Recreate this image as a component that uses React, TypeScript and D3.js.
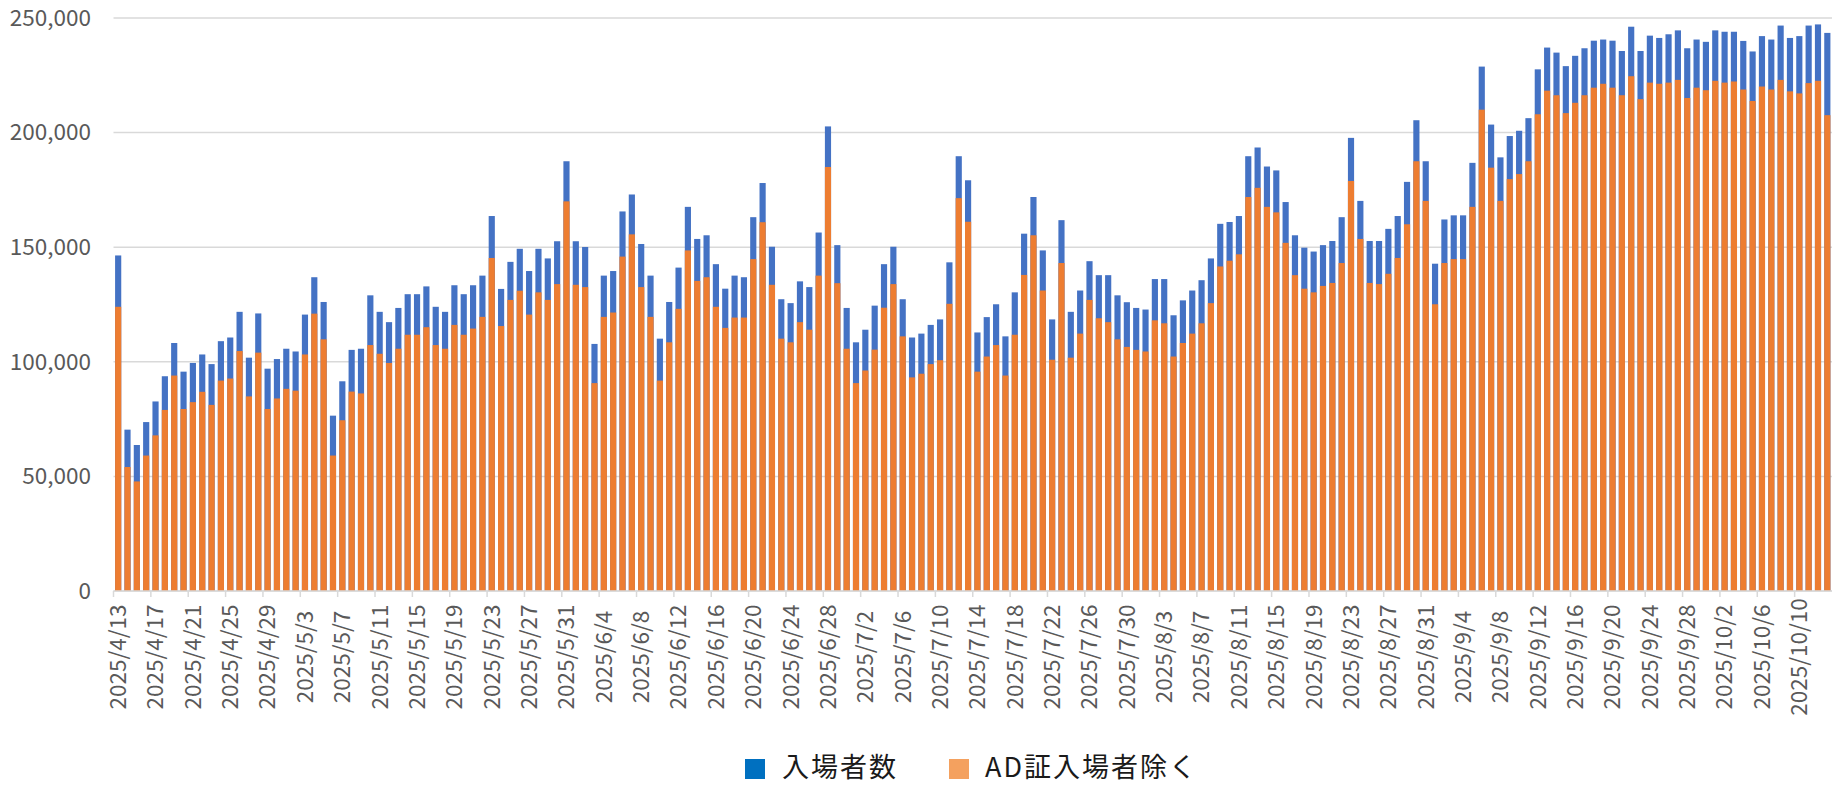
import React from "react";
import * as d3 from "d3";

// Daily categories: 2025/4/13 .. 2025/10/13
const startDate = new Date(2025, 3, 13);
const endDate = new Date(2025, 9, 14);
const dates: Date[] = d3.timeDay.range(startDate, endDate);
const categories: string[] = dates.map(
  (d) => `${d.getFullYear()}/${d.getMonth() + 1}/${d.getDate()}`
);

const seriesNames = ["入場者数", "AD証入場者除く"];

// 入場者数 (total visitors)
const totalVisitors: number[] = [
  // April 13-30
  146400, 70400, 63700, 73700, 82700, 93700, 108200, 95700, 99500, 103200, 99000, 109000, 110600, 121800, 101800, 121100, 97000, 101200,
  // May
  105700, 104500, 120600, 136900, 126100, 76500, 91500, 105200, 105700, 129000, 121800, 117300, 123500, 129500, 129500, 132900, 124000, 121800, 133400, 129500, 133400, 137600, 163600, 131800, 143600, 149300, 139600, 149300, 145100, 152600, 187500,
  // June
  152600, 150100, 107800, 137600, 139600, 165600, 173000, 151400, 137600, 110100, 126100, 141100, 167600, 153600, 155200, 142600, 131900, 137600, 136900, 163100, 178000, 150200, 127300, 125600, 135100, 132600, 156400, 202700, 150900, 123500,
  // July
  108500, 114000, 124500, 142600, 150200, 127300, 110600, 112300, 116100, 118500, 143400, 189700, 179200, 112800, 119500, 125100, 111100, 130300, 155900, 171900, 148600, 118500, 161800, 121800, 131100, 143900, 137800, 137800, 129000, 126000, 123500,
  // August
  122800, 136100, 136100, 120300, 126800, 131100, 135600, 145100, 160200, 161000, 163600, 189700, 193500, 185200, 183500, 169700, 155200, 149800, 148100, 150900, 152700, 163100, 197700, 170200, 152700, 152700, 158000, 163600, 178500, 205400, 187500,
  // September
  142800, 162100, 163900, 163900, 186800, 228800, 203500, 189200, 198500, 200800, 206300, 227600, 237100, 234900, 229000, 233500, 236800, 240100, 240600, 240100, 235600, 246200, 235600, 242300, 241300, 242900, 244600, 236800, 240600, 239600,
  // October 1-13
  244600, 244000, 244000, 240000, 235400, 242100, 240600, 246700, 241300, 242100, 246700, 247200, 243500,
];

// AD証入場者除く (excluding annual-pass visitors)
const generalVisitors: number[] = [
  // April 13-30
  124000, 54100, 47800, 59100, 67900, 79000, 94000, 79400, 82400, 86900, 81200, 91800, 92700, 104700, 84900, 104000, 79400, 84000,
  // May
  88200, 87400, 103200, 121000, 109800, 59100, 74500, 87000, 86200, 107300, 103500, 99500, 105700, 111800, 111800, 115100, 107300, 105700, 116100, 111800, 114500, 119600, 145300, 115600, 127000, 131000, 120600, 130300, 127000, 133900, 170000,
  // June
  133600, 132600, 90700, 119600, 121500, 145900, 155600, 132600, 119600, 91800, 108500, 123100, 148600, 135300, 136900, 124000, 114800, 119300, 119300, 144800, 160900, 133600, 110100, 108500, 117300, 114000, 137600, 185000, 134300, 105700,
  // July
  90700, 96200, 105300, 123600, 133900, 111100, 93200, 94800, 99000, 100700, 125300, 171400, 161100, 95700, 102300, 107300, 94000, 111800, 137900, 155200, 131100, 100900, 143100, 101800, 112300, 127000, 119000, 117300, 109800, 106500, 105200,
  // August
  104500, 118100, 116800, 102300, 108200, 112300, 116800, 125600, 141600, 144100, 146900, 171900, 175900, 167600, 165200, 151900, 137800, 131900, 130300, 133100, 134400, 143100, 178900, 153600, 134400, 133900, 138400, 145300, 160000, 187500, 170200,
  // September
  125100, 143100, 144800, 144800, 167600, 210000, 184700, 170200, 179700, 181900, 187500, 208000, 218300, 216300, 208500, 213000, 216300, 219600, 221300, 219600, 216300, 224600, 214600, 221800, 221300, 221800, 223000, 215100, 219600, 218500,
  // October 1-13
  222600, 221800, 222300, 218800, 213800, 220100, 218800, 223000, 218000, 217100, 221600, 222600, 207600,
];

const yTicks = [0, 50000, 100000, 150000, 200000, 250000];
const xTickEvery = 4;

const W = 1845;
const H = 786;
const plotLeft = 113.5;
const plotRight = 1832;
const plotTop = 18;
const plotBottom = 591;

const barBlue = "#4472C4";
const barOrange = "#ED7D31";
const legendBlue = "#0070C0";
const legendOrange = "#F4A15F";
const axisFont = "'Noto Sans CJK JP', 'Noto Sans', sans-serif";

export default function App() {
  const x = d3
    .scaleBand<string>()
    .domain(categories)
    .range([plotLeft, plotRight])
    .paddingInner(0.34)
    .paddingOuter(0.17);
  const step = x.step();
  const y = d3.scaleLinear().domain([0, 250000]).range([plotBottom, plotTop]);
  const fmt = d3.format(",");

  const tickCats = categories.filter((_, i) => i % xTickEvery === 0);

  return (
    <svg
      width={W}
      height={H}
      style={{ position: "absolute", left: 0, top: 0, background: "#fff" }}
    >
      <rect x={0} y={0} width={W} height={H} fill="#fff" />
      {/* gridlines */}
      {yTicks.map((t) => (
        <line
          key={"g" + t}
          x1={plotLeft}
          x2={plotRight}
          y1={y(t)}
          y2={y(t)}
          stroke="#d9d9d9"
          strokeWidth={1.5}
        />
      ))}
      {/* y labels */}
      {yTicks.map((t) => (
        <text
          key={"yl" + t}
          x={91}
          y={y(t)}
          dy="0.35em"
          textAnchor="end"
          fontFamily={axisFont}
          fontSize={22.5}
          fill="#595959"
        >
          {fmt(t)}
        </text>
      ))}
      {/* bars: total (blue) behind, general (orange) in front */}
      {categories.map((c, i) => (
        <rect
          key={"b" + c}
          x={x(c)}
          y={y(totalVisitors[i])}
          width={x.bandwidth()}
          height={y(0) - y(totalVisitors[i])}
          fill={barBlue}
        />
      ))}
      {categories.map((c, i) => (
        <rect
          key={"o" + c}
          x={x(c)}
          y={y(generalVisitors[i])}
          width={x.bandwidth()}
          height={y(0) - y(generalVisitors[i])}
          fill={barOrange}
        />
      ))}
      {/* x axis line */}
      <line
        x1={plotLeft}
        x2={plotRight}
        y1={plotBottom}
        y2={plotBottom}
        stroke="#d9d9d9"
        strokeWidth={1.5}
      />
      {/* x ticks */}
      {tickCats.map((c) => {
        const tx = (x(c) as number) - (step - x.bandwidth()) / 2;
        return (
          <line
            key={"t" + c}
            x1={tx}
            x2={tx}
            y1={plotBottom}
            y2={plotBottom + 6}
            stroke="#d9d9d9"
            strokeWidth={1.5}
          />
        );
      })}
      {/* x labels */}
      {tickCats.map((c) => {
        const cx = (x(c) as number) + x.bandwidth() / 2;
        const cy = 657;
        return (
          <text
            key={"xl" + c}
            transform={`translate(${cx},${cy}) rotate(-90)`}
            textAnchor="middle"
            dy="0.35em"
            fontFamily={axisFont}
            fontSize={22.5}
            fill="#595959"
          >
            {c}
          </text>
        );
      })}
      {/* legend */}
      <g fontFamily={axisFont} fontSize={27} fill="#1a1a1a" letterSpacing={2}>
        <rect x={745} y={759} width={20} height={20} fill={legendBlue} />
        <text x={782} y={768} dy="0.35em">
          {seriesNames[0]}
        </text>
        <rect x={949} y={759} width={20} height={20} fill={legendOrange} />
        <text x={985} y={768} dy="0.35em">
          {seriesNames[1]}
        </text>
      </g>
    </svg>
  );
}
